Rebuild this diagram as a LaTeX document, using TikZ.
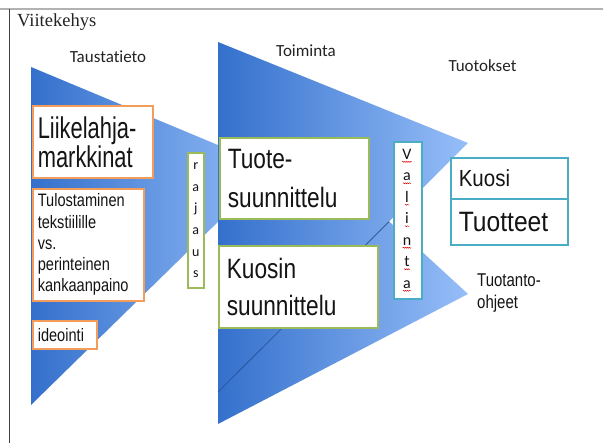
\documentclass[tikz,border=0pt]{standalone}
\usepackage{fontspec}
\usetikzlibrary{decorations.pathmorphing}
\newfontfamily\serifV{Liberation Serif}
\newfontfamily\calib[Ligatures=NoCommon]{Carlito}
\newfontfamily\arialA[FakeStretch=0.73]{Liberation Sans}
\newfontfamily\arialB[FakeStretch=0.81]{Liberation Sans}
\newfontfamily\arialC[FakeStretch=0.88]{Liberation Sans}
\definecolor{triDark}{RGB}{52,112,204}
\definecolor{triLight}{RGB}{150,190,248}
\definecolor{boxOrange}{RGB}{244,156,90}
\definecolor{boxGreen}{RGB}{155,187,89}
\definecolor{boxTeal}{RGB}{75,172,198}
\definecolor{boxText}{RGB}{20,20,20}
\definecolor{lblText}{RGB}{35,35,35}
\begin{document}
\begin{tikzpicture}[
    x=1pt, y=-1pt,
    infobox/.style={draw, fill=white, line width=1.6pt, anchor=north west, align=left,
        inner xsep=5pt, inner ysep=0pt, text=boxText},
    orangebox/.style={infobox, draw=boxOrange},
    greenbox/.style={infobox, draw=boxGreen},
    tealbox/.style={infobox, draw=boxTeal},
    heading/.style={font=\calib\fontsize{17}{20}\selectfont, text=lblText, anchor=base, inner sep=0pt},
    vletter/.style={font=\calib\fontsize{16}{19}\selectfont, text=boxText, anchor=base, inner sep=0pt},
    squiggle/.style={draw=red!85!black, line width=0.5pt, decorate,
        decoration={snake, amplitude=0.5pt, segment length=2pt}}
]
\useasboundingbox (0,0) rectangle (603,443);
% Kehys
\draw[gray!60, line width=1.2pt] (0,9) -- (603,9);
\draw[black!75, line width=1pt] (9.5,9) -- (9.5,443);
\node[font=\serifV\fontsize{18.5}{22}\selectfont, text=lblText, anchor=base west, inner sep=0pt] (otsikko) at (17,27) {Viitekehys};

% Kolmiot
\coordinate (cTop) at (31,67);
\coordinate (cApex) at (273,168);
\coordinate (cBot) at (31,405);
\coordinate (bTop) at (218,64);
\coordinate (bApex) at (468,294);
\coordinate (bBot) at (218,424);
\coordinate (aTop) at (218,42);
\coordinate (aApex) at (468,143);
\coordinate (aBot) at (218,392);
\coordinate (notch) at (intersection of aApex--aBot and bTop--bApex);
\shade[left color=triDark, right color=triLight] (cTop) -- (cApex) -- (cBot) -- cycle;
\shade[left color=triDark, right color=triLight] (bTop) -- (bApex) -- (bBot) -- cycle;
\shade[left color=triDark, right color=triLight] (aTop) -- (aApex) -- (aBot) -- cycle;
\draw[triDark!70!black, line width=0.6pt] (aBot) -- (notch);

% Laatikot
\node[orangebox, text width=110pt, minimum height=72pt, font=\arialA\fontsize{30}{27}\selectfont]
    (liike) at (32,105) {Liikelahja-\\markkinat};
\node[orangebox, text width=101pt, minimum height=112pt, font=\arialB\fontsize{18}{21.25}\selectfont]
    (tulost) at (32,188) {Tulostaminen\\tekstiilille\\vs.\\perinteinen\\kankaanpaino};
\node[orangebox, text width=54pt, minimum height=28pt, font=\arialB\fontsize{18}{21}\selectfont]
    (ideo) at (32,320) {ideointi};
\node[greenbox, align=center, inner xsep=0pt, minimum width=16pt, minimum height=135pt,
    font=\calib\fontsize{14}{21.7}\selectfont] (rajaus) at (187,152) {r\\a\\j\\a\\u\\s};
\node[greenbox, inner xsep=8pt, text width=133pt, minimum height=81pt, font=\arialB\fontsize{28}{39}\selectfont]
    (tuote) at (219,137) {Tuote-\\suunnittelu};
\node[greenbox, inner xsep=8pt, text width=143pt, minimum height=82pt, font=\arialB\fontsize{28}{37}\selectfont]
    (kuosin) at (218,245) {Kuosin\\suunnittelu};
\node[tealbox, minimum width=28pt, minimum height=157pt] (valinta) at (393,141) {};
\foreach \ch [count=\k from 0] in {V,a,l,i,n,t,a}{
    \node[vletter] (v\k) at (407,159.3+21.5*\k) {\ch};
    \draw[squiggle] ([yshift=-2.5pt]v\k.base west) -- ([yshift=-2.5pt]v\k.base east);
}
\node[tealbox, inner xsep=8pt, text width=101pt, minimum height=41pt, font=\arialC\fontsize{23.3}{26}\selectfont]
    (kuosi) at (450,157) {Kuosi};
\node[tealbox, inner xsep=8pt, text width=101pt, minimum height=46pt, font=\arialC\fontsize{28}{31}\selectfont]
    (tuotteet) at (450,198) {Tuotteet};

% Otsikot
\node[heading] (tausta) at (108,62.7) {Taustatieto};
\node[heading] (toiminta) at (306,57) {Toiminta};
\node[heading] (tuotokset) at (482.5,71.7) {Tuotokset};
\node[anchor=north west, inner sep=0pt, align=left, text=boxText,
    font=\arialB\fontsize{18.5}{22.6}\selectfont] (ohjeet) at (477,273.4) {Tuotanto-\\ohjeet};
\end{tikzpicture}
\end{document}
